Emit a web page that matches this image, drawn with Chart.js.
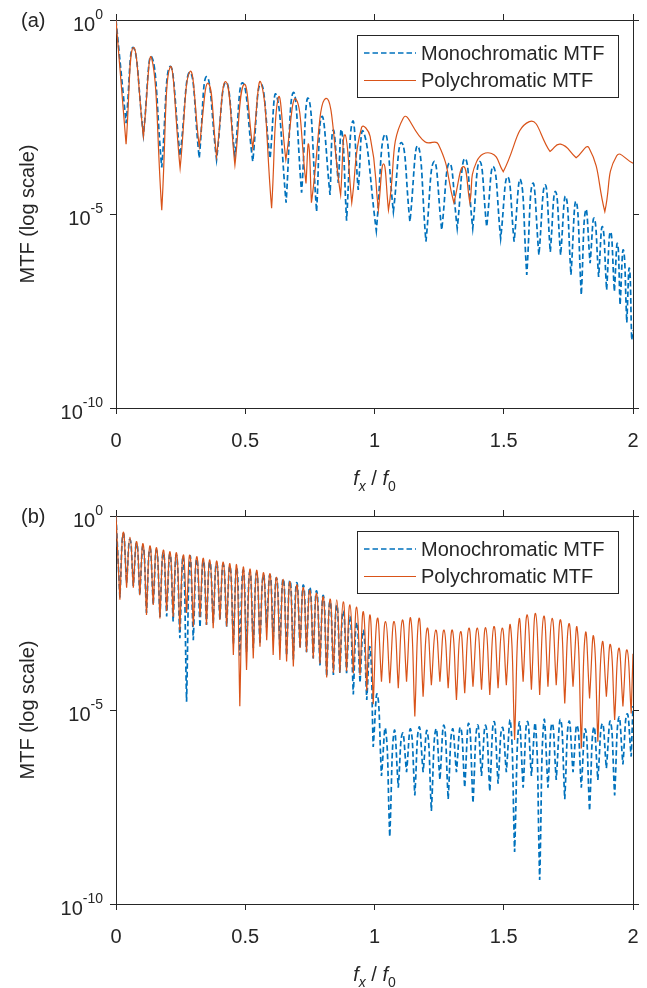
<!DOCTYPE html>
<html>
<head>
<meta charset="utf-8">
<script src="https://cdn.jsdelivr.net/npm/chart.js@4.4.1/dist/chart.umd.min.js"></script>
<style>
  body { margin: 0; background: #fff; }
  .panel { width: 647px; height: 494px; }
</style>
</head>
<body>
<div class="panel"><canvas id="mtfA" width="647" height="494"></canvas></div>
<div class="panel"><canvas id="mtfB" width="647" height="494"></canvas></div>
<script>
// axis ticks
const fxTicks = [0, 0.5, 1, 1.5, 2];
const mtfTicks = [1, 1e-5, 1e-10];
const seriesNames = ["Monochromatic MTF", "Polychromatic MTF"];

// panel (a): nulls / peaks, values are log10(MTF)
const fxA_mono = [0, 0.039, 0.067, 0.106, 0.138, 0.177, 0.209, 0.248, 0.286, 0.322, 0.351, 0.389, 0.425, 0.46, 0.49, 0.529, 0.56, 0.596, 0.62, 0.658, 0.686, 0.718, 0.744, 0.776, 0.796, 0.828, 0.84, 0.86, 0.873, 0.892, 0.915, 0.937, 0.957, 1.007, 1.04, 1.073, 1.105, 1.137, 1.168, 1.199, 1.23, 1.26, 1.29, 1.32, 1.35, 1.38, 1.407, 1.434, 1.46, 1.488, 1.515, 1.54, 1.565, 1.589, 1.612, 1.636, 1.66, 1.68, 1.70, 1.72, 1.74, 1.76, 1.78, 1.80, 1.817, 1.834, 1.85, 1.867, 1.882, 1.898, 1.913, 1.928, 1.94, 1.95, 1.963, 1.976, 1.986, 1.995, 2.0];
const logA_mono = [0, -2.66, -0.71, -2.96, -0.95, -3.8, -1.2, -3.5, -1.35, -3.56, -1.46, -3.6, -1.6, -3.5, -1.62, -3.65, -1.65, -3.57, -1.93, -4.71, -1.87, -4.45, -2.02, -4.94, -2.49, -4.51, -2.84, -4.2, -2.84, -5.17, -2.62, -4.38, -2.88, -5.43, -2.95, -4.94, -3.16, -5.2, -3.25, -5.71, -3.65, -5.41, -3.69, -5.37, -3.57, -5.37, -3.65, -5.33, -3.78, -5.63, -4.04, -5.71, -4.12, -6.57, -4.21, -6.06, -4.25, -5.98, -4.42, -6.06, -4.55, -6.57, -4.68, -7.09, -4.9, -6.27, -5.11, -6.62, -5.33, -6.96, -5.46, -7.0, -5.76, -7.35, -5.93, -7.8, -6.4, -8.25, -8.0];

const fxA_poly = [0, 0.039, 0.067, 0.106, 0.138, 0.177, 0.209, 0.248, 0.286, 0.322, 0.357, 0.389, 0.425, 0.46, 0.495, 0.529, 0.561, 0.602, 0.628, 0.657, 0.696, 0.735, 0.745, 0.756, 0.812, 0.869, 0.886, 0.912, 0.95, 0.983, 1.015, 1.035, 1.054, 1.111, 1.195, 1.247, 1.307, 1.344, 1.369, 1.395, 1.453, 1.498, 1.599, 1.679, 1.72, 1.78, 1.83, 1.891, 1.937, 2.0];
const logA_poly = [0, -3.2, -0.71, -3.0, -0.99, -4.9, -1.22, -3.82, -1.33, -3.26, -1.63, -3.52, -1.59, -3.74, -1.66, -3.3, -1.62, -4.85, -2.0, -3.6, -2.04, -4.21, -3.2, -4.71, -2.02, -4.51, -2.96, -4.71, -2.77, -3.0, -4.9, -3.71, -4.9, -2.53, -3.14, -3.2, -4.71, -3.78, -4.71, -3.65, -3.44, -3.91, -2.62, -3.39, -3.2, -3.55, -3.3, -4.94, -3.5, -3.69];

// panel (b): lobe nulls and peaks (shared positions), values are log10(MTF)
const edgeFxB = [0, 2];
const nullFxB = [0.015, 0.041, 0.067, 0.092, 0.118, 0.144, 0.170, 0.196, 0.221, 0.247, 0.273, 0.299, 0.325, 0.350, 0.376, 0.402, 0.428, 0.454, 0.479, 0.505, 0.531, 0.557, 0.583, 0.608, 0.634, 0.660, 0.686, 0.712, 0.737, 0.763, 0.789, 0.815, 0.841, 0.866, 0.892, 0.918, 0.944, 0.970, 0.995, 1.027, 1.059, 1.092, 1.124, 1.156, 1.188, 1.220, 1.253, 1.285, 1.317, 1.349, 1.381, 1.414, 1.446, 1.478, 1.510, 1.542, 1.575, 1.607, 1.639, 1.671, 1.703, 1.736, 1.768, 1.800, 1.832, 1.864, 1.897, 1.929, 1.961, 1.993];
const peakFxB = [0.028, 0.054, 0.080, 0.105, 0.131, 0.157, 0.183, 0.209, 0.234, 0.260, 0.286, 0.312, 0.338, 0.363, 0.389, 0.415, 0.441, 0.467, 0.492, 0.518, 0.544, 0.570, 0.596, 0.621, 0.647, 0.673, 0.699, 0.725, 0.750, 0.776, 0.802, 0.828, 0.854, 0.879, 0.905, 0.931, 0.957, 0.983, 1.011, 1.043, 1.076, 1.108, 1.140, 1.172, 1.204, 1.237, 1.269, 1.301, 1.333, 1.365, 1.398, 1.430, 1.462, 1.494, 1.526, 1.559, 1.591, 1.623, 1.655, 1.687, 1.720, 1.752, 1.784, 1.816, 1.848, 1.881, 1.913, 1.945, 1.977];

const polyEdgeB = [0, -3.55];
const polyNullB = [-2.16, -1.85, -1.85, -2.04, -2.55, -2.29, -2.64, -2.45, -2.6, -2.94, -2.5, -2.85, -2.6, -2.81, -2.89, -2.68, -2.85, -3.58, -4.9, -3.97, -3.67, -3.37, -3.2, -3.58, -3.71, -3.75, -3.88, -3.4, -3.51, -3.67, -3.8, -4.16, -4.04, -4.04, -4.0, -4.05, -4.1, -4.5, -4.85, -4.27, -4.31, -4.44, -4.27, -5.17, -4.66, -4.36, -4.27, -4.44, -4.74, -4.57, -4.4, -4.48, -4.61, -4.44, -4.36, -5.77, -4.27, -4.48, -4.61, -4.4, -4.36, -4.83, -4.4, -5.99, -4.7, -5.82, -4.66, -5.26, -4.91, -5.09];
const polyPeakB = [-0.42, -0.55, -0.66, -0.72, -0.77, -0.82, -0.88, -0.92, -0.95, -1.01, -1.01, -1.05, -1.09, -1.13, -1.16, -1.19, -1.24, -1.28, -1.33, -1.37, -1.40, -1.46, -1.49, -1.58, -1.63, -1.69, -1.78, -1.84, -1.91, -1.99, -2.08, -2.14, -2.16, -2.21, -2.29, -2.35, -2.47, -2.55, -2.64, -2.72, -2.72, -2.68, -2.64, -2.64, -2.89, -2.94, -2.94, -2.94, -2.98, -2.89, -2.89, -2.88, -2.85, -2.89, -2.83, -2.68, -2.55, -2.51, -2.58, -2.64, -2.68, -2.78, -2.89, -3.02, -3.11, -3.26, -3.32, -3.41, -3.45];

const monoEdgeB = [0, -4.9];
const monoNullB = [-2.1, -1.73, -1.80, -2.04, -2.5, -2.29, -2.6, -2.59, -2.72, -3.15, -4.79, -3.2, -2.87, -2.81, -2.77, -2.68, -2.85, -3.3, -3.6, -3.5, -3.4, -3.3, -2.87, -3.2, -3.4, -3.6, -3.7, -3.41, -3.51, -3.67, -3.85, -4.14, -4.1, -4.05, -4.05, -4.6, -4.3, -4.74, -5.95, -6.7, -8.27, -7.0, -6.6, -7.2, -6.6, -7.6, -6.8, -7.3, -6.6, -7.0, -7.4, -6.7, -7.1, -6.9, -6.6, -8.66, -7.0, -6.7, -9.38, -7.0, -6.8, -7.3, -6.6, -7.0, -7.6, -6.8, -6.5, -7.2, -6.4, -6.2];
const monoPeakB = [-0.46, -0.6, -0.71, -0.78, -0.83, -0.88, -0.94, -0.98, -1.01, -1.07, -1.07, -1.11, -1.15, -1.19, -1.22, -1.25, -1.3, -1.34, -1.39, -1.43, -1.46, -1.52, -1.52, -1.6, -1.62, -1.66, -1.72, -1.78, -1.84, -1.93, -2.05, -2.2, -2.3, -2.45, -2.6, -2.75, -2.95, -3.4, -4.6, -5.5, -5.55, -5.6, -5.5, -5.45, -5.55, -5.5, -5.4, -5.5, -5.45, -5.35, -5.4, -5.4, -5.3, -5.45, -5.3, -5.35, -5.3, -5.4, -5.3, -5.35, -5.25, -5.3, -5.4, -5.5, -5.45, -5.35, -5.3, -5.2, -5.1];

const ink = "#262626";
const monoColor = "#0072BD";
const polyColor = "#D95319";
const fontFamily = '"Liberation Sans", Arial, sans-serif';

// local minima are pushed twice so the spline keeps a sharp cusp at each null
function toPoints(fx, logv) {
  const pts = [];
  fx.forEach((x, i) => {
    const p = { x: x, y: Math.pow(10, logv[i]) };
    pts.push(p);
    const isNull = i > 0 && i < fx.length - 1 && logv[i] < logv[i - 1] && logv[i] < logv[i + 1];
    if (isNull) pts.push({ x: p.x, y: p.y });
  });
  return pts;
}

function lobePoints(edgeFx, edgeLog, nullFx, nullLog, peakFx, peakLog) {
  const fx = [edgeFx[0]], lg = [edgeLog[0]];
  for (let k = 0; k < nullFx.length; k++) {
    fx.push(nullFx[k]); lg.push(nullLog[k]);
    if (k < peakFx.length) { fx.push(peakFx[k]); lg.push(peakLog[k]); }
  }
  fx.push(edgeFx[1]); lg.push(edgeLog[1]);
  return toPoints(fx, lg);
}

function drawXTitle(ctx, cx, baseline) {
  const parts = [
    { t: "f", f: "italic 20px", dy: 0 },
    { t: "x", f: "italic 14px", dy: 6 },
    { t: " / ", f: "20px", dy: 0 },
    { t: "f", f: "italic 20px", dy: 0 },
    { t: "0", f: "14px", dy: 6 }
  ];
  let total = 0;
  parts.forEach(p => { ctx.font = p.f + " " + fontFamily; p.w = ctx.measureText(p.t).width; total += p.w; });
  let x = cx - total / 2;
  ctx.textAlign = "left";
  ctx.textBaseline = "alphabetic";
  parts.forEach(p => { ctx.font = p.f + " " + fontFamily; ctx.fillText(p.t, x, baseline + p.dy); x += p.w; });
}

const decorations = {
  id: "decorations",
  afterDraw(chart, args, opts) {
    const { ctx, chartArea: area, scales } = chart;
    ctx.save();
    ctx.fillStyle = ink;

    // panel tag
    ctx.font = "20px " + fontFamily;
    ctx.textAlign = "left";
    ctx.textBaseline = "middle";
    ctx.fillText(opts.tag, 21, area.top + 1);

    // y tick labels as 10^n
    scales.y.ticks.forEach(t => {
      const y = scales.y.getPixelForValue(t.value);
      const exp = String(Math.round(Math.log10(t.value)));
      ctx.font = "14px " + fontFamily;
      const wExp = ctx.measureText(exp).width;
      ctx.font = "20px " + fontFamily;
      const wBase = ctx.measureText("10").width;
      const right = area.left - 13;
      ctx.fillText("10", right - wExp - wBase, y + 5);
      ctx.font = "14px " + fontFamily;
      ctx.fillText(exp, right - wExp, y - 5);
    });

    // y title
    ctx.save();
    ctx.translate(28, (area.top + area.bottom) / 2);
    ctx.rotate(-Math.PI / 2);
    ctx.font = "20px " + fontFamily;
    ctx.textAlign = "center";
    ctx.fillText("MTF (log scale)", 0, 0);
    ctx.restore();

    // x title
    drawXTitle(ctx, (area.left + area.right) / 2, area.bottom + 77);

    // legend
    const lg = { left: 357, top: area.top + 15, w: 261, h: 62 };
    ctx.fillStyle = "#fff";
    ctx.fillRect(lg.left, lg.top, lg.w, lg.h);
    ctx.strokeStyle = ink;
    ctx.lineWidth = 1;
    ctx.strokeRect(lg.left + 0.5, lg.top + 0.5, lg.w, lg.h);
    chart.data.datasets.forEach((ds, i) => {
      const y = lg.top + 18 + i * 27.5;
      ctx.strokeStyle = ds.borderColor;
      ctx.lineWidth = ds.borderWidth;
      ctx.setLineDash(ds.borderDash || []);
      ctx.beginPath();
      ctx.moveTo(lg.left + 7, y);
      ctx.lineTo(lg.left + 59, y);
      ctx.stroke();
      ctx.setLineDash([]);
      ctx.fillStyle = ink;
      ctx.font = "20px " + fontFamily;
      ctx.textAlign = "left";
      ctx.textBaseline = "middle";
      ctx.fillText(ds.label, lg.left + 64, y + 1);
    });
    ctx.restore();
  }
};

function axisX(position, height, showLabels) {
  return {
    type: "linear", position: position, min: 0, max: 2,
    afterBuildTicks: s => { s.ticks = fxTicks.map(v => ({ value: v })); },
    ticks: {
      display: showLabels, color: ink, font: { family: fontFamily, size: 20 }, padding: 15,
      maxRotation: 0, autoSkip: false,
      callback: v => String(v)
    },
    grid: { drawOnChartArea: false, drawTicks: true, tickLength: 6, color: ink, lineWidth: 1 },
    border: { display: true, color: ink, width: 1 },
    afterFit: s => { s.height = height; s.paddingLeft = 0; s.paddingRight = 0; }
  };
}

function axisY(position, width) {
  return {
    type: "logarithmic", position: position, min: 1e-10, max: 1,
    afterBuildTicks: s => { s.ticks = mtfTicks.map(v => ({ value: v })); },
    ticks: { display: false },
    grid: { drawOnChartArea: false, drawTicks: true, tickLength: 6, color: ink, lineWidth: 1 },
    border: { display: true, color: ink, width: 1 },
    afterFit: s => { s.width = width; s.paddingTop = 0; s.paddingBottom = 0; }
  };
}

function mtfChart(id, tag, mono, poly, topH, bottomH) {
  return new Chart(document.getElementById(id), {
    type: "line",
    data: {
      datasets: [
        { label: seriesNames[0], data: mono, borderColor: monoColor, borderWidth: 1.7, borderDash: [5.5, 3], pointRadius: 0, tension: 0.5, order: 2 },
        { label: seriesNames[1], data: poly, borderColor: polyColor, borderWidth: 1.2, pointRadius: 0, tension: 0.5, order: 1 }
      ]
    },
    options: {
      responsive: false,
      animation: false,
      events: [],
      layout: { padding: 0 },
      plugins: { legend: { display: false }, tooltip: { enabled: false }, decorations: { tag: tag } },
      scales: {
        x: axisX("bottom", bottomH, true),
        xTop: axisX("top", topH, false),
        y: axisY("left", 116),
        yRight: axisY("right", 14)
      }
    },
    plugins: [decorations]
  });
}

mtfChart("mtfA", "(a)",
  toPoints(fxA_mono, logA_mono),
  toPoints(fxA_poly, logA_poly), 20, 86);

mtfChart("mtfB", "(b)",
  lobePoints(edgeFxB, monoEdgeB, nullFxB, monoNullB, peakFxB, monoPeakB),
  lobePoints(edgeFxB, polyEdgeB, nullFxB, polyNullB, peakFxB, polyPeakB), 22, 84);
</script>
</body>
</html>
